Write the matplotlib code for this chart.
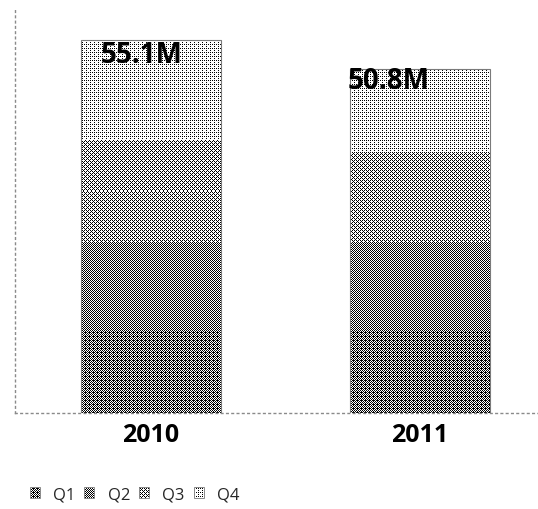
import numpy as np
import matplotlib
matplotlib.use("Agg")
import matplotlib.pyplot as plt
from matplotlib.patches import Rectangle
from matplotlib.font_manager import FontProperties

# ---- data (millions) ----
years = ["2010", "2011"]
quarters = ["Q1", "Q2", "Q3", "Q4"]
q1 = [12.1, 11.9]
q2 = [13.1, 13.2]
q3 = [15.1, 13.3]
q4 = [14.8, 12.4]

# fraction of dark pixels in each quarter's dithered fill
shade = [0.56, 0.50, 0.37, 0.19]
# placement of the total labels: x nudge (category units), drop below top (pt)
label_shift = [-0.035, -0.115]
label_drop = [16.5, 14.5]

BAYER = (np.array([[0, 8, 2, 10],
                   [12, 4, 14, 6],
                   [3, 11, 1, 9],
                   [15, 7, 13, 5]]) + 0.5) / 16.0


def dither(h, w, level, x0=0, y0=0):
    yy, xx = np.mgrid[y0:y0 + h, x0:x0 + w]
    thr = BAYER[yy % 4, xx % 4]
    return np.where(thr < level, 0.0, 1.0)


FONT = "Open Sans"
W, H, DPI = 538, 509, 100
fig = plt.figure(figsize=(W / DPI, H / DPI), dpi=DPI)
ax = fig.add_axes([15 / W, (H - 413) / H, (W - 15) / W, (413 - 7) / H])

series = [q1, q2, q3, q4]
x = np.arange(len(years))
bar_w = 0.52
xlim = (-0.506, 1.44)
ylim = (0, 60)

bottoms = np.zeros(len(years))
segments = []
for qi, vals in enumerate(series):
    bars = ax.bar(x, vals, bar_w, bottom=bottoms, color="none", linewidth=0)
    for bi, b in enumerate(bars):
        segments.append((b.get_x(), b.get_x() + b.get_width(),
                         bottoms[bi], bottoms[bi] + vals[bi], shade[qi]))
    bottoms = bottoms + np.array(vals)
totals = bottoms

ax.set_xlim(*xlim)
ax.set_ylim(*ylim)

# fill each segment with a pixel-aligned ordered-dither texture
to_px = ax.transData
from_px = ax.transData.inverted()
for (l, r, b, t, lev) in segments:
    (pl, pb) = np.round(to_px.transform((l, b)))
    (pr, pt) = np.round(to_px.transform((r, t)))
    w = int(pr - pl)
    h = int(pt - pb)
    tex = dither(h, w, lev, x0=int(pl), y0=int(H - pt))
    (dl, db) = from_px.transform((pl, pb))
    (dr, dt) = from_px.transform((pr, pt))
    ax.imshow(tex, cmap="gray", vmin=0, vmax=1, extent=(dl, dr, db, dt),
              interpolation="nearest", aspect="auto", zorder=2)

# outline of each full stack
ax.bar(x, totals, bar_w, facecolor="none", edgecolor="#7a7a7a",
       linewidth=0.8, zorder=3)
ax.set_xlim(*xlim)
ax.set_ylim(*ylim)

label_font = FontProperties(family=FONT, weight="bold", size=20)
for i, t in enumerate(totals):
    ax.annotate(f"{t:.1f}M", xy=(x[i] + label_shift[i], t),
                xytext=(0, -label_drop[i]), textcoords="offset points",
                ha="center", va="baseline", fontproperties=label_font,
                color="black", zorder=4)

tick_font = FontProperties(family=FONT, weight="bold", size=18)
ax.set_xticks(x)
ax.set_xticklabels(years, fontproperties=tick_font)
ax.tick_params(axis="x", length=0, pad=7)
ax.set_yticks([])
for side in ("top", "right"):
    ax.spines[side].set_visible(False)
for side in ("left", "bottom"):
    ax.spines[side].set_linestyle((0, (1.2, 2.6)))
    ax.spines[side].set_color("#8a8a8a")
    ax.spines[side].set_linewidth(1.0)

# legend: square swatches, later filled with the same dither textures
handles = [Rectangle((0, 0), 1, 1, facecolor="none", edgecolor="none",
                     linewidth=0, label=q) for q in quarters]
leg = fig.legend(handles=handles, loc="center left",
                 bbox_to_anchor=(30 / W, 1 - 495 / H), ncol=4, frameon=False,
                 prop={"family": FONT, "size": 12}, labelcolor="#262626",
                 handlelength=0.6, handleheight=0.6, handletextpad=0.8,
                 columnspacing=0.53, borderpad=0, borderaxespad=0)

fig.canvas.draw()
for patch, lev in zip(leg.legend_handles, shade):
    bb = patch.get_window_extent()
    x0, y0 = int(round(bb.x0)), int(round(bb.y0))
    w, h = int(round(bb.width)), int(round(bb.height))
    tex = dither(h, w, lev, x0=x0, y0=H - y0 - h)
    fig.figimage(tex, xo=x0, yo=y0, cmap="gray", vmin=0, vmax=1,
                 origin="upper", zorder=7)
    fig.add_artist(Rectangle((x0, y0), w, h, transform=None,
                             facecolor="none", edgecolor="#8a8a8a",
                             linewidth=0.7, zorder=8))

fig.savefig("out.png", dpi=DPI)
